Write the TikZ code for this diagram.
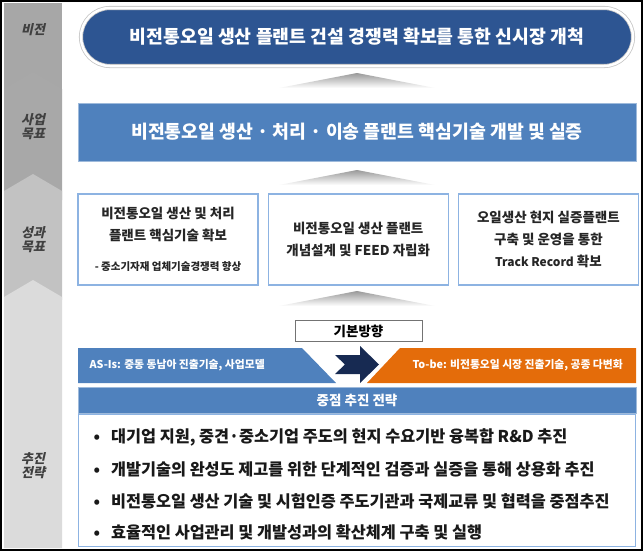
\documentclass[tikz,border=0pt]{standalone}
\usepackage{fontspec}
\setmainfont{Noto Sans CJK KR}
\newfontfamily\slantkr[FakeSlant=0.22]{Noto Sans CJK KR}
\usetikzlibrary{positioning}
\definecolor{visionblue}{HTML}{2D5592}
\definecolor{goalblue}{HTML}{4F81BD}
\definecolor{lineblue}{HTML}{8DB3E2}
\definecolor{navyarrow}{HTML}{172A52}
\definecolor{tobeorange}{HTML}{E46C0A}
\tikzstyle{vision} = [rectangle, rounded corners=29pt, minimum width=552pt, minimum height=58pt, fill=visionblue, draw=gray!45, double=white, double distance=2.5pt, line width=0.8pt, text=white, font=\bfseries\fontsize{18.3}{22}\selectfont]
\tikzstyle{bluebar} = [rectangle, minimum width=558pt, fill=goalblue, draw=goalblue!55!white, line width=1pt, text=white, inner sep=0pt]
\tikzstyle{result} = [rectangle, minimum width=180pt, minimum height=91pt, draw=lineblue, line width=1.2pt, fill=white, align=center, text=black!85, font=\bfseries\fontsize{13.5}{22}\selectfont]
\tikzstyle{bandlabel} = [align=center, text=black!75, font=\slantkr\bfseries\fontsize{13}{17}\selectfont]
\tikzstyle{uptri} = [top color=gray!80, bottom color=white]
\tikzstyle{banner} = [anchor=west, text=white, font=\bfseries\fontsize{10.8}{12}\selectfont]
\tikzstyle{bullet} = [anchor=west, text=black!90, font=\bfseries\fontsize{16.3}{19}\selectfont]

\begin{document}
\begin{tikzpicture}[x=1pt, y=-1pt]
    \useasboundingbox (0,0) rectangle (643,552);

    % left column
    \fill[gray!88!black!62] (4,3) rectangle (62,100);
    \fill[gray!68] (4,89) -- (33,72) -- (62,89) -- (62,200) -- (4,200) -- cycle;
    \fill[gray!48] (4,191) -- (33,174) -- (62,191) -- (62,300) -- (4,300) -- cycle;
    \fill[gray!28] (4,297) -- (33,280) -- (62,297) -- (62,548) -- (4,548) -- cycle;
    \node[bandlabel] (lvision) at (33,30) {비전};
    \node[bandlabel] (lgoal) at (33,127) {사업\\[-3pt]목표};
    \node[bandlabel] (lresult) at (33,240) {성과\\[-3pt]목표};
    \node[bandlabel] (lstrategy) at (33,466) {추진\\[-3pt]전략};

    % vision and goal
    \node[vision] (vision) at (357,37) {비전통오일 생산 플랜트 건설 경쟁력 확보를 통한 신시장 개척};
    \shade[uptri] (279,88) -- (357,73) -- (435,88) -- cycle;
    \node[bluebar, minimum height=58pt, font=\bfseries\fontsize{18.3}{22}\selectfont] (goal) at (357,132) {비전통오일 생산 · 처리 · 이송 플랜트 핵심기술 개발 및 실증};
    \shade[uptri] (279,185) -- (357,170) -- (435,185) -- cycle;

    % result boxes
    \node[result] (res1) at (168,239.5) {비전통오일 생산 및 처리\\플랜트 핵심기술 확보\\[8pt]{\fontsize{10.5}{12}\selectfont - 중소기자재 업체기술경쟁력 향상}};
    \node[result, right=9pt of res1] (res2) {비전통오일 생산 플랜트\\개념설계 및 FEED 자립화};
    \node[result, right=9pt of res2] (res3) {오일생산 현지 실증플랜트\\구축 및 운영을 통한\\{\fontsize{12}{13}\selectfont Track Record} 확보};
    \shade[uptri] (279,306) -- (357,291) -- (435,306) -- cycle;

    % basic direction
    \node[rectangle, draw=black!55, line width=1pt, fill=white, minimum width=127pt, minimum height=21pt, inner sep=0pt, font=\bfseries\fontsize{13.5}{15}\selectfont] (basic) at (358.5,331) {기본방향};
    \fill[goalblue] (78,348) -- (302,348) -- (336,383) -- (78,383) -- cycle;
    \node[banner] (asis) at (86,365.5) {AS-Is: 중동 동남아 진출기술, 사업모델};
    \fill[navyarrow] (335,355) -- (360,355) -- (360,346) -- (379,364.5) -- (360,383) -- (360,374) -- (335,374) -- (345,364.5) -- cycle;
    \fill[tobeorange] (367,383) -- (400,348) -- (636,348) -- (636,383) -- cycle;
    \node[banner] (tobe) at (409,365.5) {To-be: 비전통오일 시장 진출기술, 공종 다변화};

    % strategy
    \node[bluebar, minimum height=26pt, font=\bfseries\fontsize{13.5}{15}\selectfont] (focus) at (357,400) {중점 추진 전략};
    \node[rectangle, draw=lineblue, line width=1.2pt, minimum width=557pt, minimum height=132pt, below=0pt of focus] (strategy) {};
    \node[bullet] (b1) at (90,437) {•\hspace{11pt}대기업 지원, 중견·중소기업 주도의 현지 수요기반 융복합 R\&D 추진};
    \node[bullet] (b2) at (90,469) {•\hspace{11pt}개발기술의 완성도 제고를 위한 단계적인 검증과 실증을 통해 상용화 추진};
    \node[bullet] (b3) at (90,501) {•\hspace{11pt}비전통오일 생산 기술 및 시험인증 주도기관과 국제교류 및 협력을 중점추진};
    \node[bullet] (b4) at (90,532) {•\hspace{11pt}효율적인 사업관리 및 개발성과의 확산체계 구축 및 실행};

    \draw[line width=1.5pt] (1,1) rectangle (642,550);
\end{tikzpicture}
\end{document}
